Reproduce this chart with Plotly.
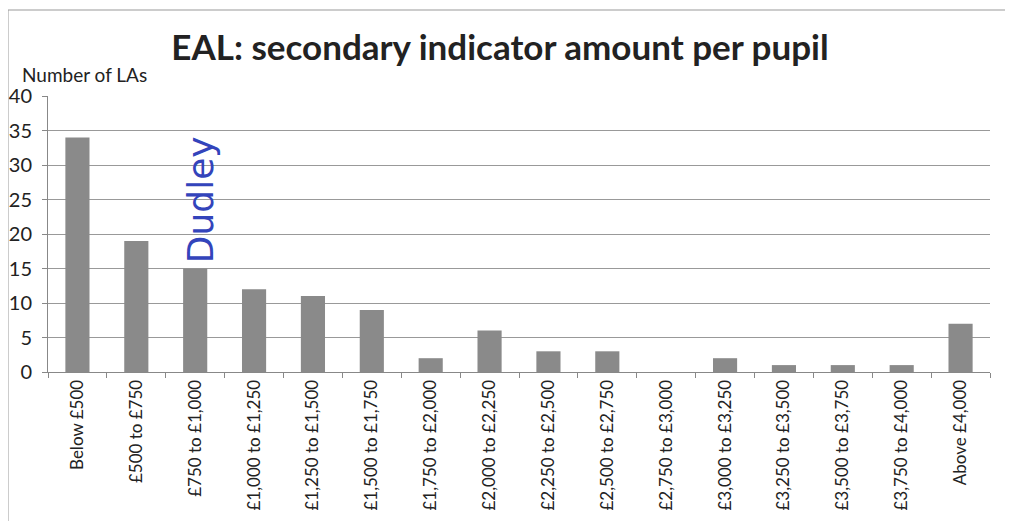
import plotly.graph_objects as go

categories = ["Below £500", "£500 to £750", "£750 to £1,000", "£1,000 to £1,250",
              "£1,250 to £1,500", "£1,500 to £1,750", "£1,750 to £2,000", "£2,000 to £2,250",
              "£2,250 to £2,500", "£2,500 to £2,750", "£2,750 to £3,000", "£3,000 to £3,250",
              "£3,250 to £3,500", "£3,500 to £3,750", "£3,750 to £4,000", "Above £4,000"]
values = [34, 19, 15, 12, 11, 9, 2, 6, 3, 3, 0, 2, 1, 1, 1, 7]
y_ticks = [0, 5, 10, 15, 20, 25, 30, 35, 40]

# page body has an 8px margin; work in screen coords and convert
OFF = 8
W, H = 1013 - OFF, 521 - OFF
L, R, T, B = 48 - OFF, 1013 - 990, 96 - OFF, 521 - 372
pw, ph = W - L - R, H - T - B

def px(x):
    return (x - OFF - L) / pw

def py(y):
    return (H - B - (y - OFF)) / ph

fig = go.Figure(go.Bar(x=categories, y=values, marker=dict(color="#8a8a8a", line=dict(width=0))))

fig.update_layout(
    width=W, height=H,
    margin=dict(l=L, r=R, t=T, b=B, autoexpand=False),
    paper_bgcolor="white", plot_bgcolor="white",
    bargap=0.59,
    showlegend=False,
    font=dict(family="Lato, Open Sans, sans-serif", color="#222"),
    title=dict(text="<b>EAL: secondary indicator amount per pupil</b>",
               x=(500 - OFF) / W, xanchor="center", y=1 - (48 - OFF) / H, yanchor="middle",
               font=dict(size=35, color="#222")),
)
fig.update_xaxes(type="category", tickangle=-90, tickfont=dict(size=17, color="#222"),
                 automargin=False,
                 showline=True, linecolor="#888", linewidth=1,
                 ticks="outside", tickson="boundaries", ticklen=5, tickcolor="#888",
                 showgrid=False)
fig.update_yaxes(range=[0, 40], tickvals=y_ticks, tickfont=dict(size=20, color="#222"),
                 automargin=False, ticklabelstandoff=6,
                 showline=True, linecolor="#888", linewidth=1,
                 ticks="outside", ticklen=5, tickcolor="#888",
                 showgrid=True, gridcolor="#999", gridwidth=1, zeroline=False)

fig.add_annotation(text="Number of LAs", xref="paper", yref="paper",
                   x=px(20), y=py(74), xanchor="left", yanchor="middle",
                   showarrow=False, font=dict(size=19, color="#222"))
fig.add_annotation(text="Dudley", xref="x", yref="paper",
                   x=categories[2], y=py(200), textangle=-90, xshift=5,
                   showarrow=False,
                   font=dict(size=36, color="#3344bb", family="DejaVu Sans"))

# outer chart border (left and top edges visible)
fig.add_shape(type="line", xref="paper", yref="paper",
              x0=px(8), x1=px(1013), y0=py(10), y1=py(10),
              line=dict(color="#999", width=1))
fig.add_shape(type="line", xref="paper", yref="paper",
              x0=px(8), x1=px(8), y0=py(10), y1=py(521),
              line=dict(color="#999", width=1))

fig.write_html("out.html")
